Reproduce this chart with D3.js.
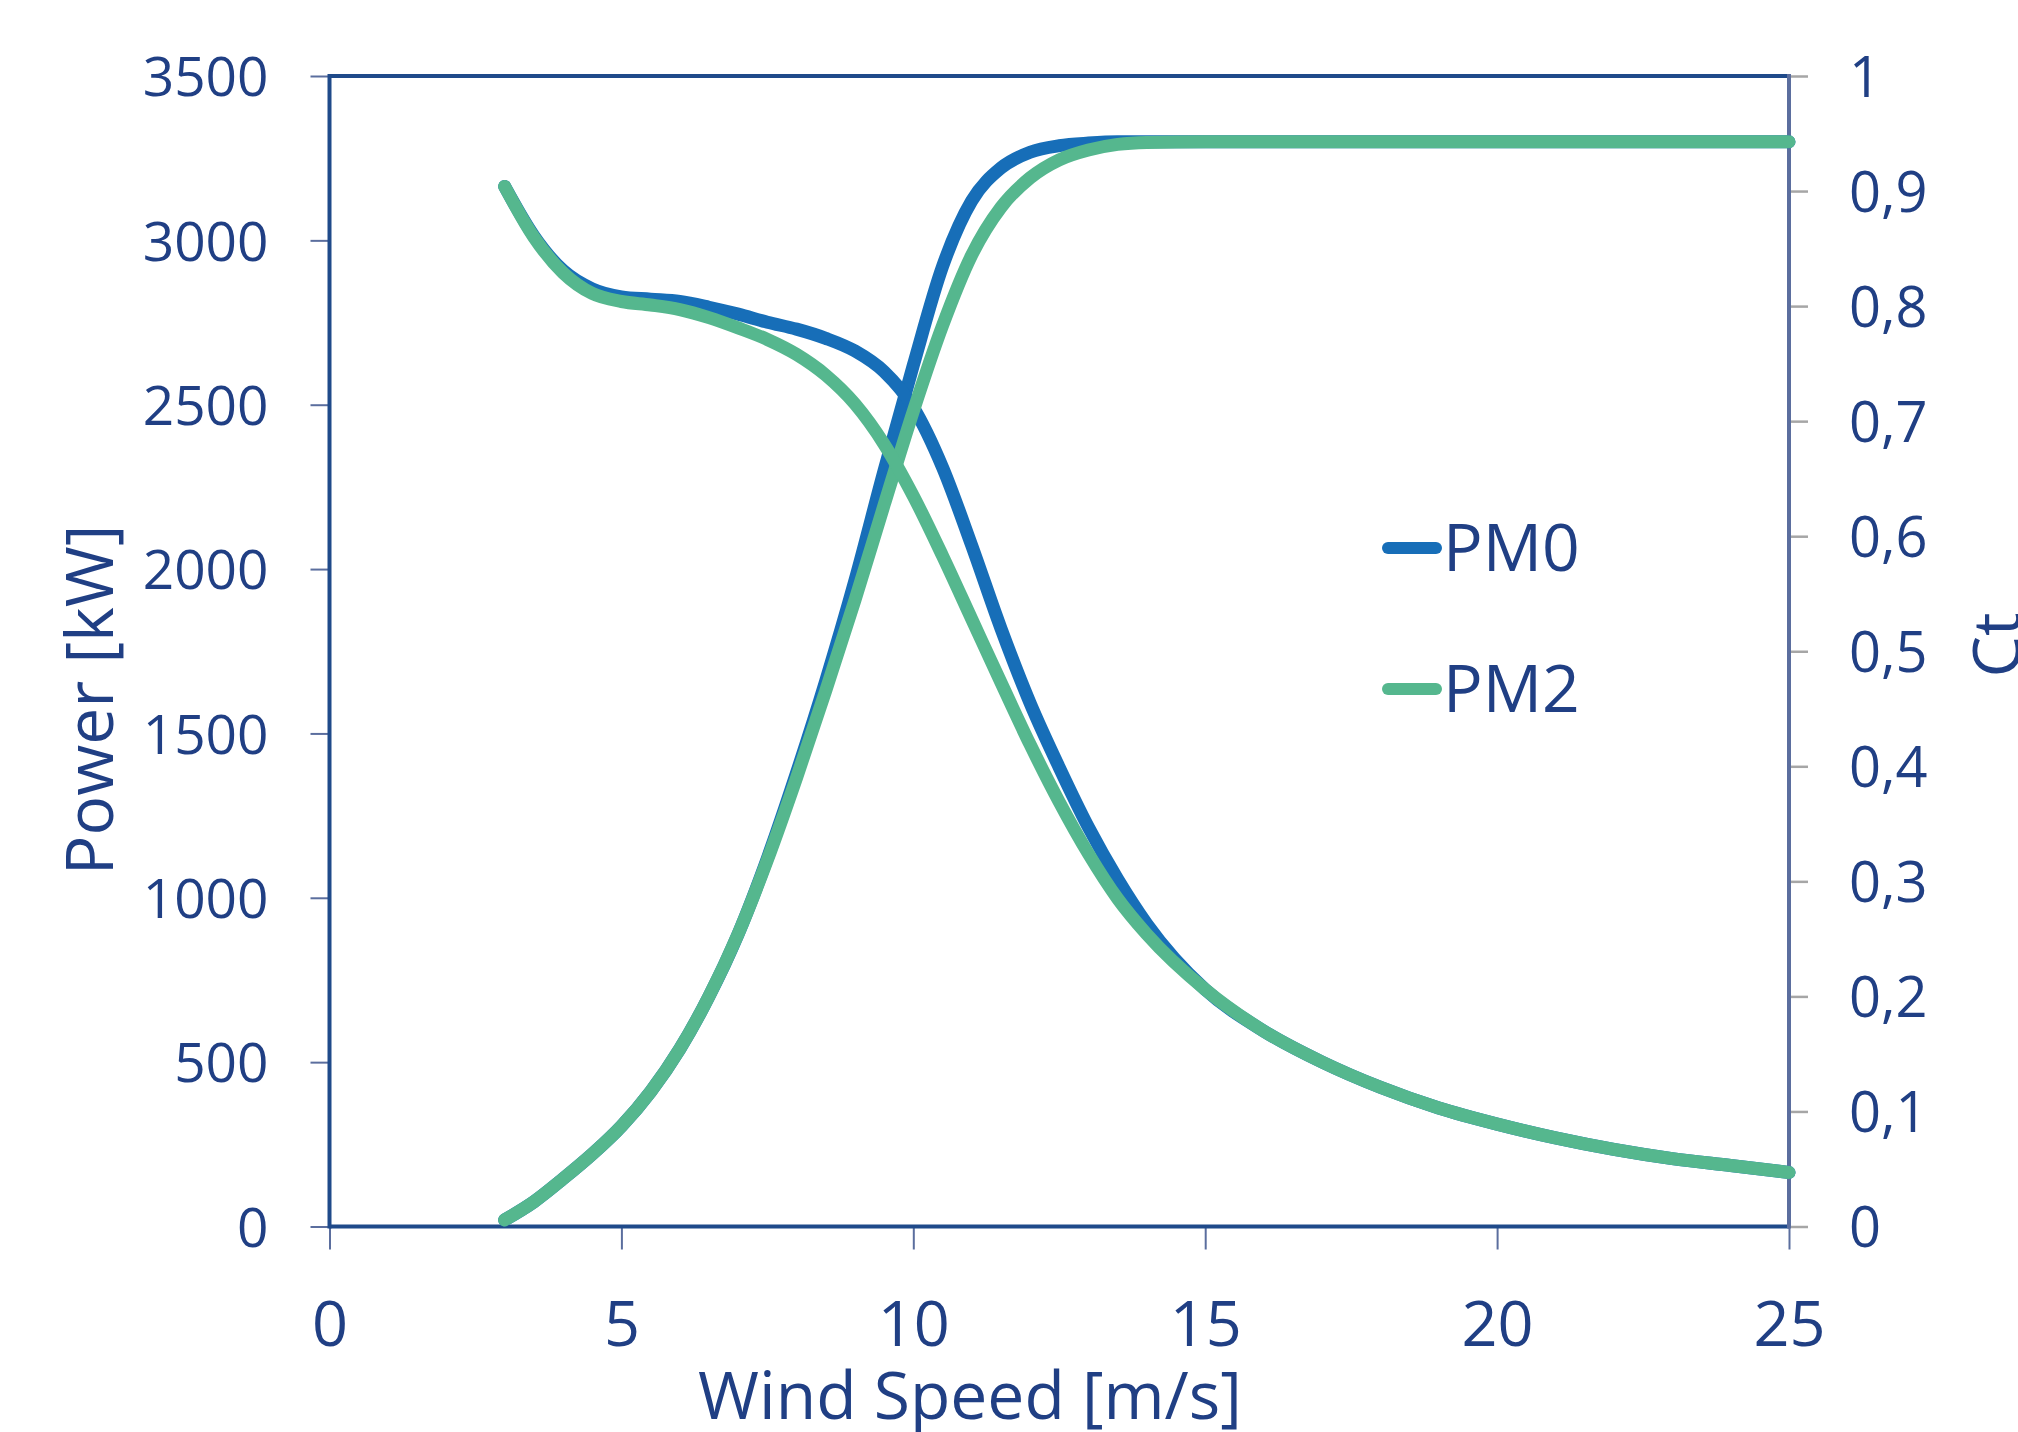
<!DOCTYPE html>
<html>
<head>
<meta charset="utf-8">
<script src="https://cdn.jsdelivr.net/npm/d3@7"></script>
<style>
  html, body { margin: 0; padding: 0; background: #ffffff; }
  svg { display: block; }
  text { font-family: "Open Sans", "Noto Sans", sans-serif; fill: #203f84; }
</style>
</head>
<body>
<svg id="chart" width="2018" height="1432"></svg>
<script>
// ---- data ----
const windSpeed = [3,3.5,4,4.5,5,5.5,6,6.5,7,7.5,8,8.5,9,9.5,10,10.5,11,11.5,12,12.5,13,13.5,14,15,16,17,18,19,20,21,22,23,24,25];
const pm0Power = [20,75,145,220,305,410,540,700,890,1120,1380,1660,1965,2300,2620,2920,3120,3220,3268,3288,3296,3300,3300,3300,3300,3300,3300,3300,3300,3300,3300,3300,3300,3300];
const pm2Power = [20,75,145,220,305,410,540,700,890,1115,1365,1630,1905,2195,2480,2740,2955,3100,3190,3245,3275,3292,3298,3300,3300,3300,3300,3300,3300,3300,3300,3300,3300,3300];
const pm0Ct = [0.904,0.861,0.831,0.815,0.808,0.806,0.804,0.799,0.793,0.786,0.780,0.772,0.761,0.743,0.712,0.660,0.592,0.520,0.455,0.399,0.347,0.302,0.263,0.206,0.170,0.143,0.121,0.103,0.089,0.077,0.067,0.059,0.053,0.047];
const pm2Ct = [0.904,0.860,0.829,0.811,0.804,0.801,0.797,0.790,0.781,0.771,0.758,0.740,0.715,0.680,0.635,0.583,0.528,0.473,0.419,0.369,0.324,0.285,0.254,0.206,0.170,0.143,0.121,0.103,0.089,0.077,0.067,0.059,0.053,0.047];
const xTicks = [0,5,10,15,20,25];
const powerTicks = [0,500,1000,1500,2000,2500,3000,3500];
const ctTicks = [0,0.1,0.2,0.3,0.4,0.5,0.6,0.7,0.8,0.9,1];
const ctTickLabels = ["0","0,1","0,2","0,3","0,4","0,5","0,6","0,7","0,8","0,9","1"];
const seriesNames = ["PM0","PM2"];
const seriesColors = ["#176eb8","#55b78e"];

// ---- layout ----
const pLeft = 329.5, pRight = 1789, pTop = 76, pBottom = 1226.5;
const navy = "#1f4a8a", axisGrey = "#5b6e9e", textCol = "#203f84";

const svg = d3.select("#chart");

const x = d3.scaleLinear().domain([0,25]).range([pLeft,pRight]);
const yP = d3.scaleLinear().domain([0,3500]).range([pBottom,pTop]);
const yC = d3.scaleLinear().domain([0,1]).range([pBottom,pTop]);

// axes
const gx = svg.append("g").attr("transform",`translate(0,${pBottom})`)
  .call(d3.axisBottom(x).tickValues(xTicks).tickSize(23).tickPadding(52).tickSizeOuter(0));
gx.select(".domain").remove();
gx.selectAll("line").attr("stroke", axisGrey).attr("stroke-width",2);
gx.selectAll("text").attr("font-size",63).attr("fill",textCol).attr("font-family","Open Sans");

const gyl = svg.append("g").attr("transform",`translate(${pLeft},0)`)
  .call(d3.axisLeft(yP).tickValues(powerTicks).tickSize(19).tickPadding(42).tickSizeOuter(0)
        .tickFormat(d3.format("d")));
gyl.select(".domain").remove();
gyl.selectAll("line").attr("stroke", axisGrey).attr("stroke-width",2);
gyl.selectAll("text").attr("font-size",55).attr("fill",textCol).attr("font-family","Open Sans").attr("dy","0.36em");

const gyr = svg.append("g").attr("transform",`translate(${pRight},0)`)
  .call(d3.axisRight(yC).tickValues(ctTicks).tickSize(19).tickPadding(41).tickSizeOuter(0)
        .tickFormat((d,i) => ctTickLabels[i]));
gyr.select(".domain").remove();
gyr.selectAll("line").attr("stroke", "#a6a6a6").attr("stroke-width",2.5);
gyr.selectAll("text").attr("font-size",56).attr("fill",textCol).attr("font-family","Open Sans").attr("dy","0.36em");

// frame
svg.append("line").attr("x1",pLeft).attr("x2",pRight).attr("y1",pTop).attr("y2",pTop)
  .attr("stroke",navy).attr("stroke-width",4);
svg.append("line").attr("x1",pLeft).attr("x2",pLeft).attr("y1",pTop-2).attr("y2",pBottom+2)
  .attr("stroke",navy).attr("stroke-width",4);
svg.append("line").attr("x1",pLeft).attr("x2",pRight).attr("y1",pBottom).attr("y2",pBottom)
  .attr("stroke",navy).attr("stroke-width",4);
svg.append("line").attr("x1",pRight).attr("x2",pRight).attr("y1",pTop-2).attr("y2",pBottom+2)
  .attr("stroke",axisGrey).attr("stroke-width",4);

// lines
const powerLine = vals => d3.line().curve(d3.curveMonotoneX)
  .x((d,i) => x(windSpeed[i])).y(d => yP(d))(vals);
const ctLine = vals => d3.line().curve(d3.curveMonotoneX)
  .x((d,i) => x(windSpeed[i])).y(d => yC(d))(vals);

const lw = 13;
function drawPath(d, color) {
  svg.append("path").attr("d", d).attr("fill","none")
    .attr("stroke",color).attr("stroke-width",lw)
    .attr("stroke-linecap","round").attr("stroke-linejoin","round");
}
drawPath(powerLine(pm0Power), seriesColors[0]);
drawPath(ctLine(pm0Ct), seriesColors[0]);
drawPath(powerLine(pm2Power), seriesColors[1]);
drawPath(ctLine(pm2Ct), seriesColors[1]);

// legend
const legY = [548, 689];
seriesNames.forEach((name,i) => {
  svg.append("line").attr("x1",1388).attr("x2",1436).attr("y1",legY[i]).attr("y2",legY[i])
    .attr("stroke",seriesColors[i]).attr("stroke-width",12).attr("stroke-linecap","round");
  svg.append("text").attr("x",1443).attr("y",legY[i]+23).attr("font-size",66).attr("fill",textCol).text(name);
});

// axis titles
svg.append("text").attr("x",970).attr("y",1419).attr("text-anchor","middle")
  .attr("font-size",66).text("Wind Speed [m/s]");
svg.append("text").attr("transform","translate(113,700) rotate(-90)").attr("text-anchor","middle")
  .attr("font-size",66).text("Power [kW]");
svg.append("text").attr("transform","translate(2020,645) rotate(-90)").attr("text-anchor","middle")
  .attr("font-size",66).text("Ct");
</script>
</body>
</html>
